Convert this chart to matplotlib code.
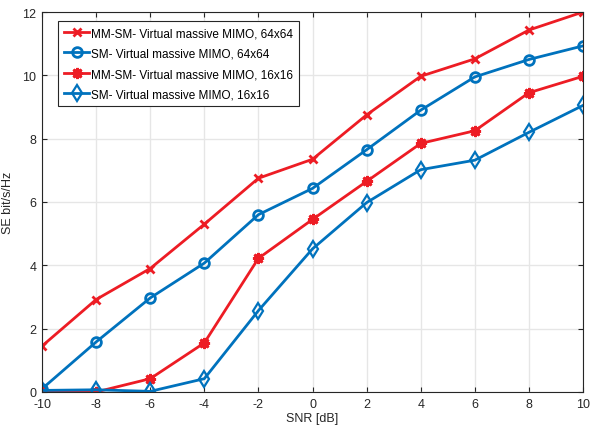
import matplotlib
matplotlib.use("Agg")
import matplotlib.pyplot as plt

snr = [-10, -8, -6, -4, -2, 0, 2, 4, 6, 8, 10]
mmsm_64 = [1.45, 2.92, 3.90, 5.30, 6.75, 7.35, 8.75, 9.97, 10.52, 11.43, 12.0]
sm_64 = [0.10, 1.58, 2.97, 4.07, 5.60, 6.43, 7.65, 8.90, 9.95, 10.50, 10.93]
mmsm_16 = [0.0, 0.0, 0.42, 1.55, 4.22, 5.45, 6.65, 7.85, 8.25, 9.45, 9.97]
sm_16 = [0.05, 0.07, 0.02, 0.42, 2.57, 4.52, 5.98, 7.02, 7.32, 8.20, 9.05]

red = "#ED1C24"
blue = "#0072BD"

plt.rcParams["font.family"] = ["Liberation Sans", "DejaVu Sans"]
plt.rcParams["font.size"] = 9
plt.rcParams["axes.unicode_minus"] = False

fig = plt.figure(figsize=(5.9, 4.39), dpi=100)
ax = fig.add_axes([42 / 590, 1 - 393 / 439, (583 - 42) / 590, (393 - 13) / 439])

ax.plot(snr, mmsm_64, color=red, lw=2, marker="x", ms=6, mew=2,
        label="MM-SM- Virtual massive MIMO, 64x64")
ax.plot(snr, sm_64, color=blue, lw=2, marker="o", ms=7, mew=2, mfc="none",
        label="SM- Virtual massive MIMO, 64x64")
ax.plot(snr, mmsm_16, color=red, lw=2, marker=(8, 2, 0), ms=8, mew=2,
        label="MM-SM- Virtual massive MIMO, 16x16")
ax.plot(snr, sm_16, color=blue, lw=2, marker="d", ms=8, mew=1.6, mfc="none",
        label="SM- Virtual massive MIMO, 16x16")

ax.set_xlim(-10, 10)
ax.set_ylim(0, 12)
ax.set_xticks(range(-10, 11, 2))
ax.set_yticks(range(0, 13, 2))
ax.grid(True, color="#e6e6e6", lw=1)
ax.set_axisbelow(True)
ax.tick_params(direction="in", top=True, right=True, colors="#262626",
               labelsize=9, pad=4)
for s in ax.spines.values():
    s.set_color("#262626")
    s.set_linewidth(0.8)

ax.set_xlabel("SNR [dB]", color="#262626", labelpad=2)
ax.set_ylabel("SE bit/s/Hz", color="#262626", labelpad=6)

leg = ax.legend(loc="upper left", bbox_to_anchor=(0.03, 0.976), borderaxespad=0,
                fancybox=False, edgecolor="#262626", framealpha=1,
                handlelength=2.1, handletextpad=0.15, borderpad=0.5,
                labelspacing=0.72, fontsize=8.5)
leg.get_frame().set_linewidth(0.8)

fig.savefig("out.png", dpi=100)
